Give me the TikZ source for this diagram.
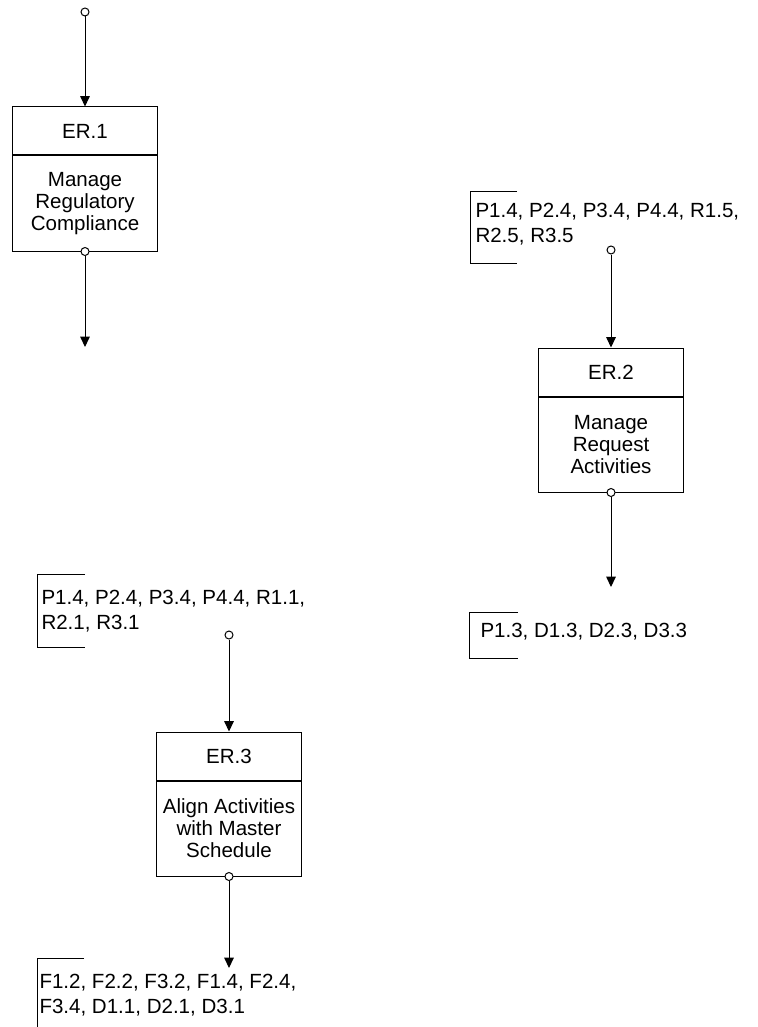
\documentclass[tikz,border=0pt]{standalone}
\usepackage{fontspec}
\setmainfont{Liberation Sans}
\usetikzlibrary{positioning,arrows.meta}

\begin{document}
\begin{tikzpicture}[
  x=0.75pt, y=-0.75pt,
  font=\fontsize{15.4}{16.5}\selectfont,
  line width=0.75pt,
  arr/.style={-{Triangle[length=7.8pt,width=7.2pt]}},
  port/.style={circle, draw, fill=white, inner sep=0pt, minimum size=6pt},
  hdr/.style={draw, minimum width=108.75pt, minimum height=36pt, inner sep=0pt},
  body/.style={
    draw,
    align=center,
    inner sep=0pt,
    minimum width=108.75pt,
    minimum height=71.25pt
  },
  note/.style={anchor=west, inner sep=0pt, align=left,
    font=\fontsize{15.4}{18.75}\selectfont}
]
\useasboundingbox (0,0) rectangle (757,1027);

% -------------------------------------------------
% Column x-positions
% -------------------------------------------------
\def\xA{85}
\def\xB{611}
\def\xC{229}

% -------------------------------------------------
% ER.1
% -------------------------------------------------
\node[hdr] (er1h) at (\xA,131) {ER.1};
\node[body, below=0pt of er1h] (er1b) {Manage\\Regulatory\\Compliance};
\node[port] (in1) at (\xA,12) {};
\node[port] (out1) at (er1b.south) {};
\coordinate (end1) at (\xA,347);

% -------------------------------------------------
% ER.2
% -------------------------------------------------
\node[hdr] (er2h) at (\xB,372) {ER.2};
\node[body, below=0pt of er2h] (er2b) {Manage\\Request\\Activities};
\node[port] (in2) at (\xB,250) {};
\node[port] (out2) at (er2b.south) {};
\coordinate (end2) at (\xB,587);

\node[note] (n2in) at (475,224.5) {P1.4, P2.4, P3.4, P4.4, R1.5,\\R2.5, R3.5};
\node[note] (n2out) at (480,632) {P1.3, D1.3, D2.3, D3.3};
\draw (517,191) -- (470,191) -- (470,263) -- (517,263);
\draw (518,612) -- (469,612) -- (469,658) -- (518,658);

% -------------------------------------------------
% ER.3
% -------------------------------------------------
\node[hdr] (er3h) at (\xC,756) {ER.3};
\node[body, below=0pt of er3h] (er3b) {Align Activities\\with Master\\Schedule};
\node[port] (in3) at (\xC,635) {};
\node[port] (out3) at (er3b.south) {};
\coordinate (end3) at (\xC,968);

\node[note] (n3in) at (41,611.5) {P1.4, P2.4, P3.4, P4.4, R1.1,\\R2.1, R3.1};
\node[note] (n3out) at (39,995.5) {F1.2, F2.2, F3.2, F1.4, F2.4,\\F3.4, D1.1, D2.1, D3.1};
\draw (85,574) -- (37,574) -- (37,647) -- (85,647);
\draw (84,958) -- (37,958) -- (37,1027);

% -------------------------------------------------
% ARROWS
% -------------------------------------------------
\draw[arr] (in1) -- (er1h.north);
\draw[arr] (out1) -- (end1);

\draw[arr] (in2) -- (er2h.north);
\draw[arr] (out2) -- (end2);

\draw[arr] (in3) -- (er3h.north);
\draw[arr] (out3) -- (end3);

\end{tikzpicture}
\end{document}
